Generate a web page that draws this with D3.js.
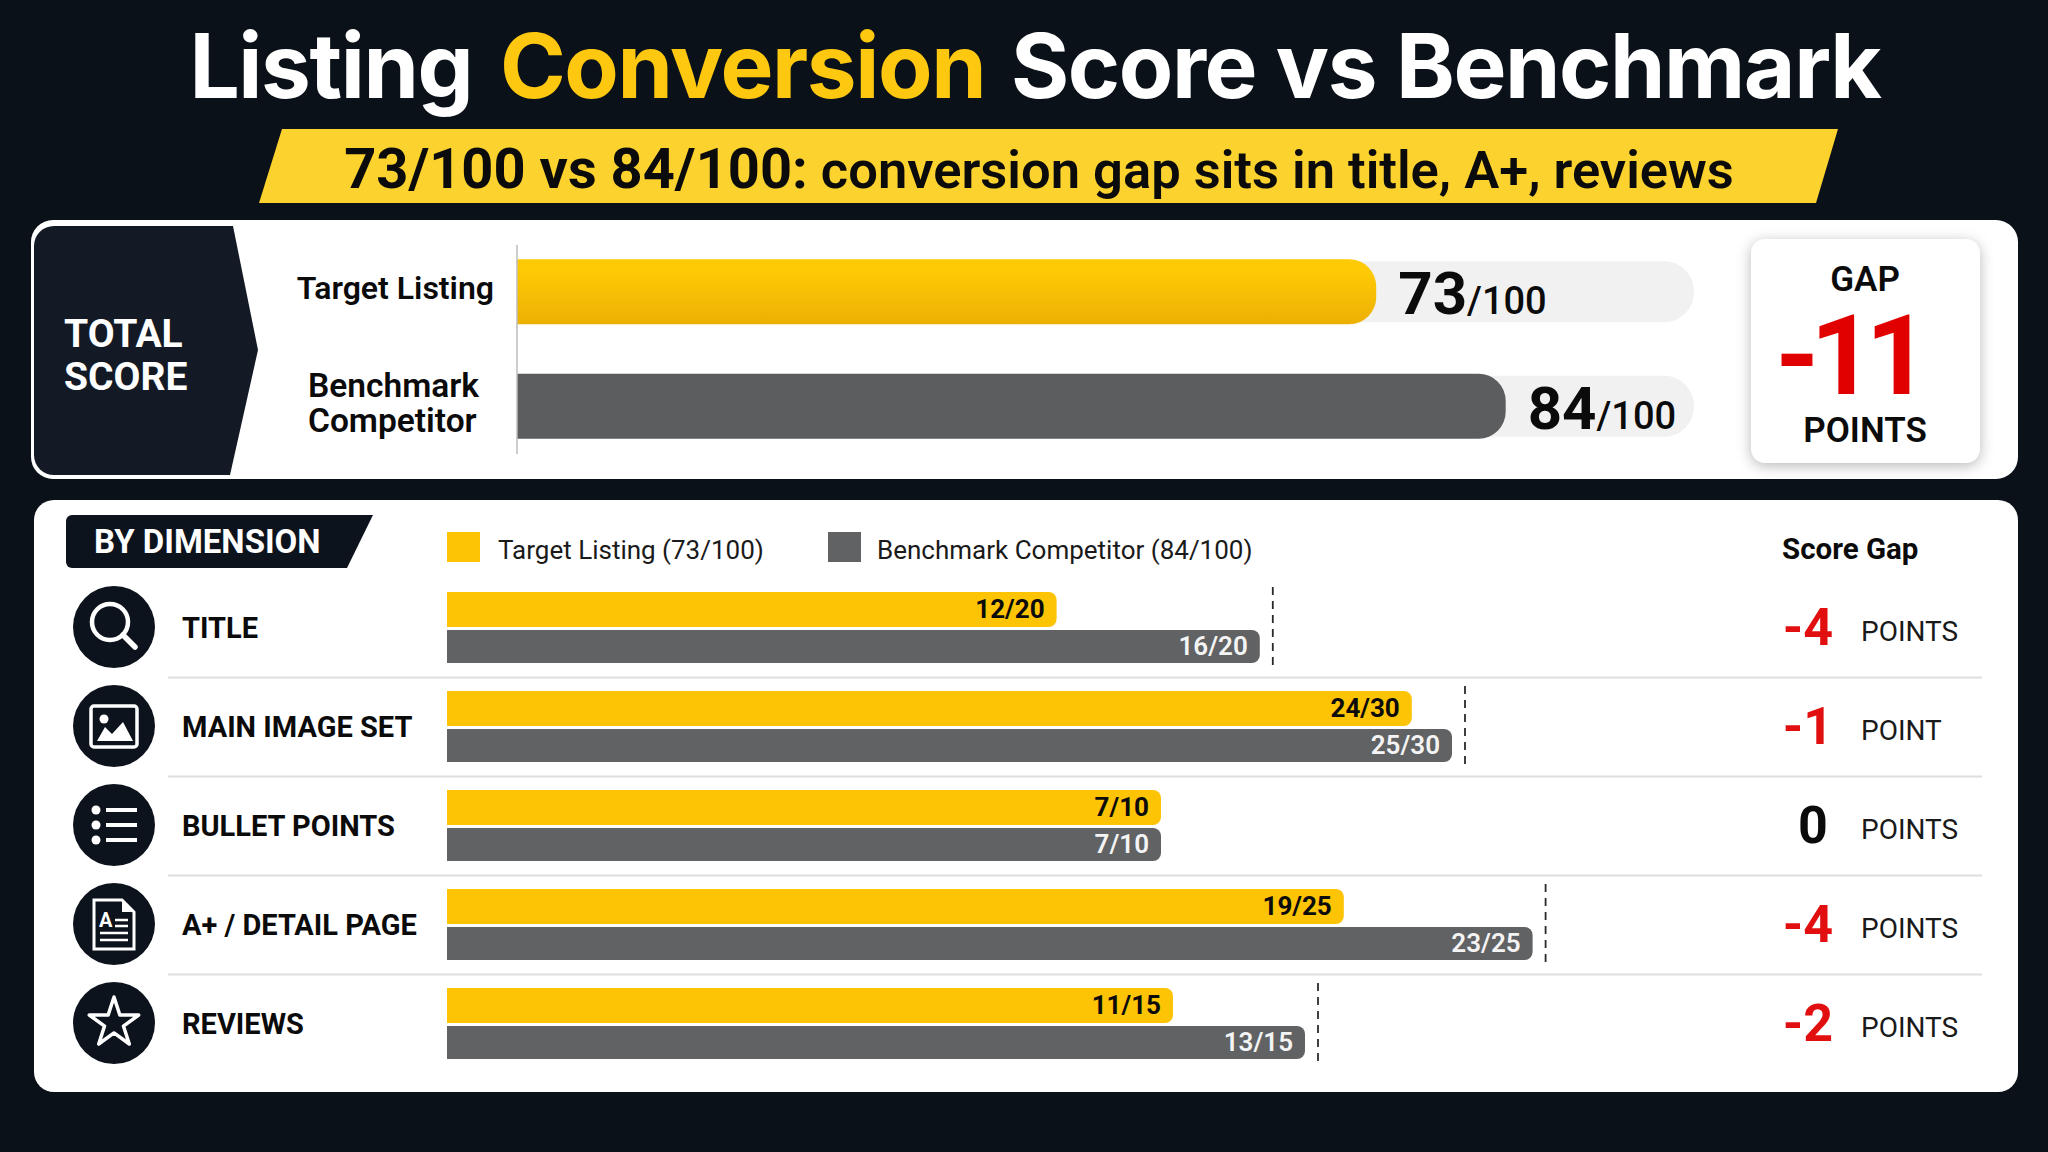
<!DOCTYPE html>
<html>
<head>
<meta charset="utf-8">
<script src="https://cdn.jsdelivr.net/npm/d3@7"></script>
<style>
html,body{margin:0;padding:0;background:#0b1119;}
svg{display:block;}
text{font-family:Roboto,"Liberation Sans",sans-serif;}
</style>
</head>
<body>
<svg id="chart" width="2048" height="1152"></svg>
<script>
// Overall scores
const totalLabels = ["Target Listing", "Benchmark Competitor"];
const totalScores = [73, 84];
const totalMax = 100;

// Scores by dimension
const categories = ["TITLE", "MAIN IMAGE SET", "BULLET POINTS", "A+ / DETAIL PAGE", "REVIEWS"];
const targetScores = [12, 24, 7, 19, 11];
const benchmarkScores = [16, 25, 7, 23, 13];
const maxScores = [20, 30, 10, 25, 15];

// Pixel length of a full score on each dimension row
const rowSpans = [1016, 1206, 1020, 1180, 990];

const YELLOW = "#fdc305", GREY = "#606264", RED = "#e10f0f";

const svg = d3.select("#chart");

function label(parent, x, y, str, size, weight, fill, anchor) {
  return parent.append("text").attr("x", x).attr("y", y).text(str)
    .attr("font-size", size).attr("font-weight", weight)
    .attr("fill", fill).attr("text-anchor", anchor || "start");
}

// Right-rounded bar starting at x0
function barPath(x0, x1, y, h, r) {
  return `M${x0},${y}H${x1 - r}A${r},${r} 0 0 1 ${x1},${y + r}V${y + h - r}A${r},${r} 0 0 1 ${x1 - r},${y + h}H${x0}Z`;
}

const defs = svg.append("defs");
const grad = defs.append("linearGradient").attr("id", "goldBar").attr("x1", 0).attr("x2", 0).attr("y1", 0).attr("y2", 1);
grad.append("stop").attr("offset", "0.2").attr("stop-color", "#fec905");
grad.append("stop").attr("offset", "1").attr("stop-color", "#ecb004");

svg.append("rect").attr("width", 2048).attr("height", 1152).attr("fill", "#0b1119");

// Heading
const title = svg.append("text").attr("x", 1035).attr("y", 98).attr("text-anchor", "middle")
  .attr("font-size", 89).attr("font-weight", 700).attr("fill", "#ffffff")
  .style("font-family", "Inter, Roboto, sans-serif").attr("letter-spacing", -1.4);
title.append("tspan").text("Listing ");
title.append("tspan").attr("dx", 8).attr("fill", "#fdc80f").text("Conversion");
title.append("tspan").attr("dx", 6).text(" Score vs Benchmark");

svg.append("path").attr("d", "M282,129H1838L1816,203H259Z").attr("fill", "#fcd22f");
const sub = svg.append("text").attr("x", 1039).attr("y", 188).attr("text-anchor", "middle")
  .attr("font-size", 56).attr("font-weight", 700).attr("fill", "#0b0b0b");
sub.append("tspan").text("73/100 vs 84/100:");
sub.append("tspan").attr("font-size", 52.5).attr("font-weight", 600).text(" conversion gap sits in title, A+, reviews");

// Total score panel
const top_ = svg.append("g");
top_.append("rect").attr("x", 31).attr("y", 220).attr("width", 1987).attr("height", 259).attr("rx", 22).attr("fill", "#ffffff");
top_.append("path").attr("d", "M54,226H233L258,350L230,475H54A20,20 0 0 1 34,455V246A20,20 0 0 1 54,226Z").attr("fill", "#141a25");
label(top_, 64, 347, "TOTAL", 39, 700, "#ffffff");
label(top_, 64, 390, "SCORE", 39, 700, "#ffffff");

const xTotal = d3.scaleLinear().domain([0, totalMax]).range([517, 1694]);
const yTotal = d3.scaleBand().domain(totalLabels).range([234, 463]);

totalLabels.forEach((name, i) => {
  const cy = yTotal(name) + yTotal.bandwidth() / 2;
  top_.append("rect").attr("x", xTotal(0)).attr("y", cy - 30).attr("width", xTotal(totalMax) - xTotal(0))
    .attr("height", 61).attr("rx", 30).attr("fill", "#f1f1f1");
  top_.append("path").attr("d", barPath(xTotal(0), xTotal(totalScores[i]), cy - 32, 65, 27))
    .attr("fill", i === 0 ? "url(#goldBar)" : "#5b5d5f");
  const v = top_.append("text").attr("x", xTotal(totalScores[i]) + 22).attr("y", cy + 23)
    .attr("font-weight", 700).attr("font-size", 60).attr("fill", "#0b0b0b");
  v.append("tspan").text(totalScores[i]);
  v.append("tspan").attr("font-size", 38).attr("font-weight", 500).text("/" + totalMax);
});

label(top_, 494, 299, "Target Listing", 32, 600, "#0b0b0b", "end");
label(top_, 308, 397, "Benchmark", 33.5, 600, "#0b0b0b");
label(top_, 308, 432, "Competitor", 33.5, 600, "#0b0b0b");
top_.append("line").attr("x1", 517).attr("x2", 517).attr("y1", 245).attr("y2", 454).attr("stroke", "#bdbdbd").attr("stroke-width", 1.5);

// Gap card
const totalGap = totalScores[0] - totalScores[1];
top_.append("rect").attr("x", 1751).attr("y", 239).attr("width", 229).attr("height", 224).attr("rx", 14)
  .attr("fill", "#ffffff").style("filter", "drop-shadow(0 3px 7px rgba(0,0,0,0.28))");
label(top_, 1865, 291, "GAP", 35, 600, "#0b0b0b", "middle");
label(top_, 1848, 394, "-" + Math.abs(totalGap), 112, 700, "#e00000", "middle").attr("letter-spacing", -9);
label(top_, 1865, 442, "POINTS", 35, 600, "#0b0b0b", "middle");

// Dimension panel
const dim = svg.append("g");
dim.append("rect").attr("x", 34).attr("y", 500).attr("width", 1984).attr("height", 592).attr("rx", 20).attr("fill", "#ffffff");
dim.append("path").attr("d", "M72,515H373L347,568H72A6,6 0 0 1 66,562V521A6,6 0 0 1 72,515Z").attr("fill", "#0d131c");
label(dim, 94, 553, "BY DIMENSION", 33, 700, "#ffffff");

dim.append("rect").attr("x", 447).attr("y", 532).attr("width", 33).attr("height", 30).attr("fill", YELLOW);
label(dim, 498, 559, "Target Listing (73/100)", 26, 400, "#1a1a1a");
dim.append("rect").attr("x", 828).attr("y", 532).attr("width", 33).attr("height", 30).attr("fill", GREY);
label(dim, 877, 559, "Benchmark Competitor (84/100)", 26, 400, "#1a1a1a");
label(dim, 1782, 559, "Score Gap", 29.5, 700, "#0b0b0b");

const yRow = d3.scaleBand().domain(categories).range([577.5, 1072.5]);

// Small white glyphs inside the round row badges
const icons = [
  g => {
    g.append("circle").attr("cx", -4).attr("cy", -5).attr("r", 18).attr("fill", "none").attr("stroke", "#fff").attr("stroke-width", 4.5);
    g.append("line").attr("x1", 9).attr("y1", 8).attr("x2", 21).attr("y2", 20).attr("stroke", "#fff").attr("stroke-width", 5.5).attr("stroke-linecap", "round");
  },
  g => {
    g.append("rect").attr("x", -23).attr("y", -20).attr("width", 46).attr("height", 41).attr("rx", 3).attr("fill", "none").attr("stroke", "#fff").attr("stroke-width", 3.5);
    g.append("circle").attr("cx", -10).attr("cy", -7).attr("r", 4.5).attr("fill", "#fff");
    g.append("path").attr("d", "M-17,15L-9,1L-2,8L9,-4L19,15Z").attr("fill", "#fff");
  },
  g => {
    [-15, 0, 15].forEach(dy => {
      g.append("circle").attr("cx", -18).attr("cy", dy).attr("r", 4.5).attr("fill", "#fff");
      g.append("line").attr("x1", -8).attr("x2", 23).attr("y1", dy).attr("y2", dy).attr("stroke", "#fff").attr("stroke-width", 4);
    });
  },
  g => {
    g.append("path").attr("d", "M-20,-24H8L20,-12V25H-20Z").attr("fill", "none").attr("stroke", "#fff").attr("stroke-width", 3);
    g.append("path").attr("d", "M8,-24V-12H20Z").attr("fill", "#fff");
    g.append("text").attr("x", -15).attr("y", 3).attr("font-size", 20).attr("font-weight", 700).attr("fill", "#fff").text("A");
    [[1, 14, -4], [1, 14, 2], [-14, 14, 9], [-14, 14, 16]].forEach(([a, b, y]) => {
      g.append("line").attr("x1", a).attr("x2", b).attr("y1", y).attr("y2", y).attr("stroke", "#fff").attr("stroke-width", 2.5);
    });
  },
  g => {
    g.append("path").attr("d", d3.symbol().type(d3.symbolStar).size(759)()).attr("fill", "none")
      .attr("stroke", "#fff").attr("stroke-width", 3.5).attr("stroke-linejoin", "round");
  }
];

categories.forEach((name, i) => {
  const cy = yRow(name) + yRow.bandwidth() / 2;
  const row = dim.append("g");
  const x = d3.scaleLinear().domain([0, maxScores[i]]).range([447, 447 + rowSpans[i]]);

  const badge = row.append("g").attr("transform", `translate(114,${cy})`);
  badge.append("circle").attr("r", 41).attr("fill", "#0d131c");
  icons[i](badge);

  label(row, 182, cy + 11, name, 29, 700, "#0b0b0b");

  row.append("path").attr("d", barPath(x(0), x(targetScores[i]), cy - 35, 35, 8)).attr("fill", YELLOW);
  row.append("path").attr("d", barPath(x(0), x(benchmarkScores[i]), cy + 3, 33, 8)).attr("fill", GREY);
  label(row, x(targetScores[i]) - 12, cy - 9, `${targetScores[i]}/${maxScores[i]}`, 26, 700, "#0b0b0b", "end");
  label(row, x(benchmarkScores[i]) - 12, cy + 28, `${benchmarkScores[i]}/${maxScores[i]}`, 26, 600, "#f4f4f4", "end");

  // Benchmark marker, only where the two scores differ
  const gap = targetScores[i] - benchmarkScores[i];
  if (gap !== 0) {
    row.append("line").attr("x1", x(benchmarkScores[i]) + 13).attr("x2", x(benchmarkScores[i]) + 13)
      .attr("y1", cy - 40).attr("y2", cy + 42)
      .attr("stroke", "#2a2a2a").attr("stroke-width", 1.8).attr("stroke-dasharray", "8 6");
  }
  label(row, gap === 0 ? 1813 : 1808, cy + 18, gap === 0 ? "0" : "-" + Math.abs(gap), 52, 700, gap === 0 ? "#0b0b0b" : RED, "middle");
  label(row, 1861, cy + 14, Math.abs(gap) === 1 ? "POINT" : "POINTS", 28, 400, "#1a1a1a");

  if (i < categories.length - 1) {
    row.append("line").attr("x1", 168).attr("x2", 1982).attr("y1", yRow(name) + yRow.step() + 1).attr("y2", yRow(name) + yRow.step() + 1)
      .attr("stroke", "#dedede").attr("stroke-width", 2);
  }
});
</script>
</body>
</html>
